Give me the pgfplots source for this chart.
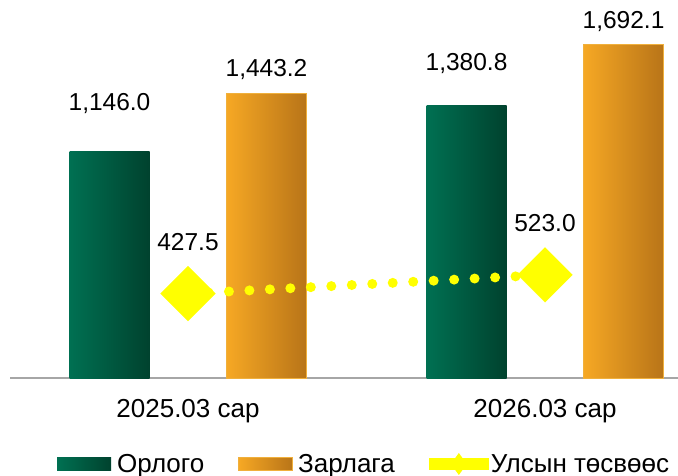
\documentclass[border=0pt]{standalone}
\usepackage{pgfplots}
\pgfplotsset{compat=1.18}
\usepackage{fontspec}
\setmainfont{Liberation Sans}
\definecolor{gL}{RGB}{0,112,82}
\definecolor{gR}{RGB}{0,66,46}
\definecolor{oL}{RGB}{246,168,36}
\definecolor{oR}{RGB}{184,116,24}
\definecolor{oB}{RGB}{240,176,60}
\definecolor{yl}{RGB}{255,255,0}

\pgfplotsset{
  gbar/.style={ybar, bar width=80pt, bar shift=-78.5pt, draw=none, left color=gL, right color=gR,
    nodes near coords style={xshift=-78.5pt}},
  obar/.style={ybar, bar width=80pt, bar shift=78.5pt, draw=oB, line width=0.8pt, left color=oL, right color=oR,
    nodes near coords style={xshift=78.5pt}},
}

\begin{document}
\begin{tikzpicture}
\begin{axis}[
  at={(10pt,97pt)}, anchor=south west,
  scale only axis, width=668pt, height=378pt,
  xmin=-0.4986, xmax=1.3725, ymin=0, ymax=1916,
  enlargelimits=false, clip=false,
  axis x line*=bottom, axis y line=none,
  x axis line style={draw=black!35, line width=1.3pt, -},
  xtick={0,1}, xticklabels={2025.03 сар, 2026.03 сар},
  xtick style={draw=none}, ytick=\empty,
  xticklabel style={anchor=center, yshift=-33pt, font=\fontsize{26}{30}\selectfont},
  /pgf/number format/assume math mode=true,
  nodes near coords={\pgfmathprintnumber[fixed,fixed zerofill,precision=1,1000 sep={,}]{\pgfplotspointmeta}},
  nodes near coords style={anchor=center, font=\fontsize{24.5}{28}\selectfont, text=black},
  legend columns=3,
  legend style={at={(0.0704,-0.2275)}, anchor=west, draw=none, fill=none, inner sep=0pt,
    font=\fontsize{26}{30}\selectfont,
    nodes={inner sep=0pt},
    /tikz/every even column/.append style={column sep=34pt}},
]
\addplot[gbar, nodes near coords style={yshift=48pt},
  legend image code/.code={\shade[left color=gL,right color=gR] (0pt,-6.5pt) rectangle (54pt,6.5pt); \path (60pt,0pt);}]
  coordinates {(0,1146.0)};
\addlegendentry{Орлого}
\addplot[obar, nodes near coords style={yshift=24pt},
  legend image code/.code={\shade[left color=oL,right color=oR] (0pt,-6.5pt) rectangle (54pt,6.5pt); \path (59pt,0pt);}]
  coordinates {(0,1443.2)};
\addlegendentry{Зарлага}
\addplot[gbar, forget plot, nodes near coords style={yshift=42pt}] coordinates {(1,1380.8)};
\addplot[obar, forget plot, nodes near coords style={yshift=23pt}] coordinates {(1,1692.1)};
\addplot[color=yl, line width=10pt, line cap=round, dash pattern=on 0pt off 20.5pt,
  mark=square*, mark size=19.4pt, mark options={solid, rotate=45, fill=yl, line width=0.1pt},
  nodes near coords style={yshift=51.5pt},
  legend image code/.code={\path[draw=none, fill=none] (0pt,-6pt) rectangle (62pt,6pt);
     \path[draw=none, fill=yl] (0pt,-6pt) rectangle (60pt,6pt);
     \path[draw=none, fill=yl] (30pt,11pt) -- (38pt,0pt) -- (30pt,-11pt) -- (22pt,0pt) -- cycle;}]
  coordinates {(0,427.5) (1,523.0)};
\addlegendentry{Улсын төсвөөс}
\end{axis}
\pgfresetboundingbox
\path[use as bounding box] (0pt,0pt) rectangle (678pt,475pt);
\end{tikzpicture}
\end{document}
